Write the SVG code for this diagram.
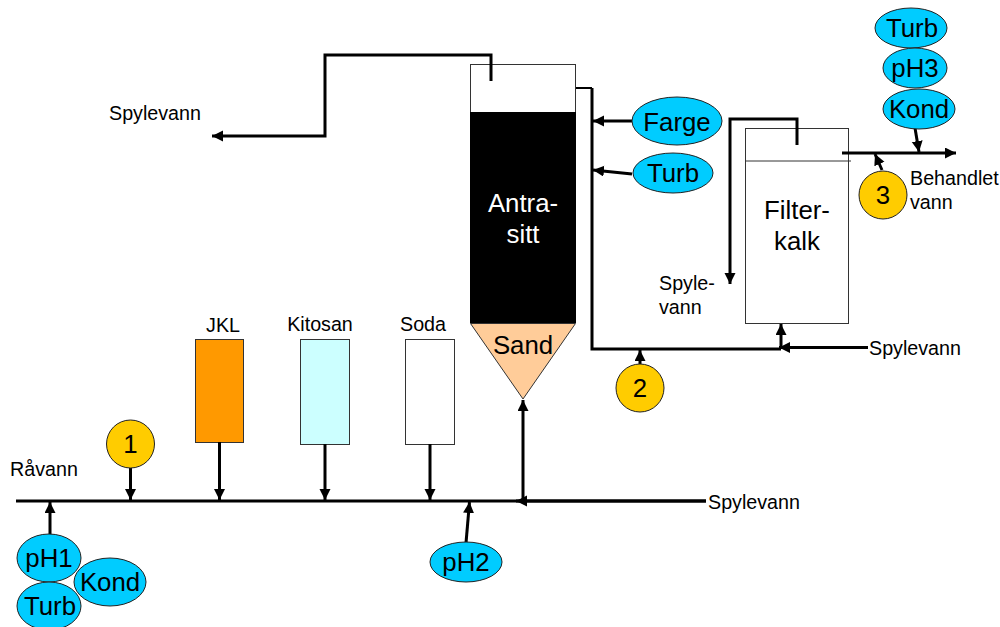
<svg xmlns="http://www.w3.org/2000/svg" width="1000" height="627" viewBox="0 0 1000 627">
<style>
text{font-family:"Liberation Sans",Arial,sans-serif;fill:#000;text-anchor:middle}
.s{font-size:19.7px}
.m{font-size:25.8px}
.l{text-anchor:start}
.w{fill:#fff}
.box{stroke:#333;stroke-width:1}
.cy{fill:#00ccff;stroke:#222;stroke-width:1}
.ye{fill:#ffcc00;stroke:#222;stroke-width:1}
.c line,.c polyline{fill:none;stroke:#000;stroke-width:3}
.a{marker-end:url(#ah)}
.thin{stroke-width:2!important}
</style>
<defs><marker id="ah" markerUnits="userSpaceOnUse" markerWidth="12" markerHeight="12" refX="11" refY="5.500" orient="auto"><path d="M0 0L11 5.500L0 11Z" fill="#000"/></marker></defs>

<g id="tank-antrasitt">
<rect x="470.500" y="64.500" width="105" height="48" fill="#fff" class="box"/>
<rect x="470" y="112" width="106" height="211" fill="#000"/>
<path d="M470.500 323.500H575.500L523 399Z" fill="#ffcc99" stroke="#333"/>
<text x="523" y="212" class="m w">Antra-</text>
<text x="523" y="243" class="m w">sitt</text>
<text x="523" y="354" class="m">Sand</text>
</g>
<g id="tank-filterkalk">
<rect x="745.500" y="128.500" width="103" height="195" fill="#fff" class="box"/>
<line x1="745" y1="161" x2="851" y2="161" stroke="#333"/>
<text x="797" y="219" class="m">Filter-</text>
<text x="797" y="250" class="m">kalk</text>
</g>
<g id="jkl"><rect x="195.500" y="339.500" width="48" height="103" fill="#ff9900" class="box"/><text x="223" y="332" class="s">JKL</text></g>
<g id="kitosan"><rect x="300.500" y="339.500" width="49" height="105" fill="#ccffff" class="box"/><text x="320" y="331" class="s">Kitosan</text></g>
<g id="soda"><rect x="405.500" y="339.500" width="49" height="105" fill="#fff" class="box"/><text x="423" y="331" class="s">Soda</text></g>

<g class="c" id="connectors">
<line x1="16" y1="501" x2="706" y2="501"/>
<line x1="50" y1="535" x2="50" y2="502" class="a"/>
<line x1="130.500" y1="468" x2="130.500" y2="500" class="a"/>
<line x1="219.500" y1="442" x2="219.500" y2="500" class="a"/>
<line x1="325" y1="444" x2="325" y2="500" class="a"/>
<line x1="430" y1="444" x2="430" y2="500" class="a"/>
<line x1="466" y1="543" x2="469.500" y2="502" class="a"/>
<line x1="706" y1="501" x2="516" y2="501" class="a"/>
<line x1="523" y1="501" x2="523" y2="400" class="a"/>
<polyline points="491,81 491,55 325,55 325,136 212,136" class="a"/>
<line x1="576" y1="88" x2="592" y2="88" class="thin"/>
<polyline points="592,88 592,349 781,349"/>
<line x1="632" y1="121" x2="593" y2="121" class="a"/>
<line x1="632" y1="174" x2="593" y2="170" class="a"/>
<line x1="640" y1="364" x2="640" y2="350" class="a"/>
<line x1="781" y1="349" x2="781" y2="324" class="a"/>
<line x1="868" y1="347.500" x2="779" y2="347.500" class="a"/>
<polyline points="797,145 797,119 730,119 730,284" class="a"/>
<line x1="842" y1="153" x2="956" y2="153" class="a"/>
<line x1="915" y1="128" x2="919" y2="152" class="a"/>
<line x1="882" y1="170" x2="875" y2="154" class="a"/>
</g>

<g id="n-farge"><ellipse cx="677" cy="121" rx="45" ry="24" class="cy"/><text x="677" y="131" class="m">Farge</text></g>
<g id="n-turb-mid"><ellipse cx="673" cy="173" rx="40" ry="20" class="cy"/><text x="673" y="182" class="m">Turb</text></g>
<g id="n-turb-top"><ellipse cx="911" cy="28" rx="36" ry="20" class="cy"/><text x="912" y="37" class="m">Turb</text></g>
<g id="n-ph3"><ellipse cx="915" cy="68" rx="32" ry="20" class="cy"/><text x="915" y="77" class="m">pH3</text></g>
<g id="n-kond-top"><ellipse cx="919" cy="109" rx="36" ry="20" class="cy"/><text x="919" y="118" class="m">Kond</text></g>
<g id="n-ph1"><ellipse cx="49" cy="558" rx="32" ry="24" class="cy"/><text x="49" y="567" class="m">pH1</text></g>
<g id="n-turb-low"><ellipse cx="49" cy="606" rx="32" ry="24" class="cy"/><text x="50" y="615" class="m">Turb</text></g>
<g id="n-kond-low"><ellipse cx="110" cy="582" rx="36" ry="24" class="cy"/><text x="110" y="591" class="m">Kond</text></g>
<g id="n-ph2"><ellipse cx="466" cy="562" rx="36" ry="20" class="cy"/><text x="466" y="571" class="m">pH2</text></g>
<g id="n-1"><circle cx="130.500" cy="444" r="24" class="ye"/><text x="130.500" y="453" class="m">1</text></g>
<g id="n-2"><circle cx="640" cy="388" r="24" class="ye"/><text x="640" y="397" class="m">2</text></g>
<g id="n-3"><circle cx="883" cy="195" r="24" class="ye"/><text x="883" y="204" class="m">3</text></g>

<g id="labels">
<text x="109" y="120" class="s l">Spylevann</text>
<text x="659" y="290" class="s l">Spyle-</text>
<text x="659" y="314" class="s l">vann</text>
<text x="869" y="355" class="s l">Spylevann</text>
<text x="708" y="509" class="s l">Spylevann</text>
<text x="10" y="476" class="s l">Råvann</text>
<text x="910" y="185" class="s l">Behandlet</text>
<text x="910" y="209" class="s l">vann</text>
</g>
</svg>
